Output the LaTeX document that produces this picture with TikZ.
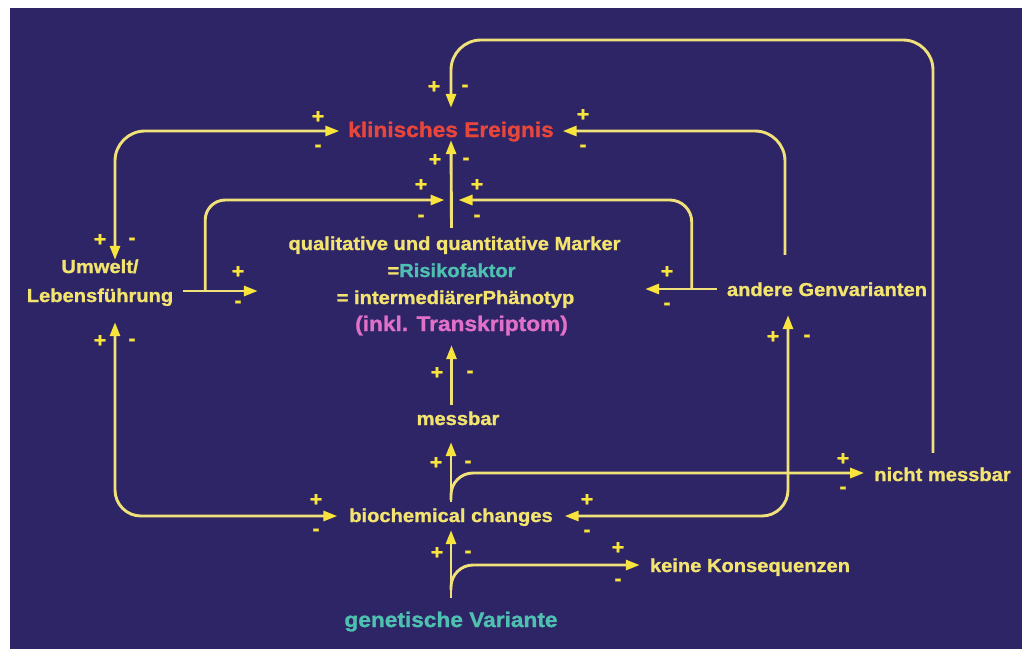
\documentclass[tikz,border=0pt]{standalone}
\usepackage{fontspec}
\setmainfont{Liberation Sans}[FakeStretch=1.07, FakeBold=1.2]
\usetikzlibrary{arrows.meta,calc}
\definecolor{bgc}{RGB}{46,37,102}
\definecolor{txtY}{RGB}{242,228,110}
\definecolor{lineY}{RGB}{240,225,120}
\definecolor{tipY}{RGB}{248,228,60}
\definecolor{sgnY}{RGB}{248,228,60}
\definecolor{redT}{RGB}{232,70,58}
\definecolor{tealT}{RGB}{78,192,176}
\definecolor{pinkT}{RGB}{224,112,200}
\newcommand\pmpair[3]{\node[sgn] (#1p) at (#2) {+}; \node[sgn] (#1m) at (#3) {-};}
\tikzset{
  txt/.style={inner sep=0pt, text=txtY, font=\bfseries\fontsize{18.8}{29}\selectfont},
  bigtxt/.style={inner sep=0pt, font=\bfseries\fontsize{21.2}{29}\selectfont},
  sgn/.style={inner sep=0pt, text=sgnY, font=\bfseries\fontsize{20}{20}\selectfont},
  con/.style={draw=lineY, line width=2.9pt, -{Triangle[length=14pt,width=10pt,color=tipY]}},
  dcon/.style={draw=lineY, line width=2.9pt, {Triangle[length=14pt,width=10pt,color=tipY]}-{Triangle[length=14pt,width=10pt,color=tipY]}},
}
\begin{document}
\begin{tikzpicture}[x=1pt,y=-1pt]
\useasboundingbox (0,0) rectangle (1027,649);
\fill[white] (0,0) rectangle (1027,649);
\fill[bgc] (10,8) rectangle (1022,649);

% nodes
\node[bigtxt, text=redT, text height=29pt, text depth=17pt, minimum width=223pt] (klin) at (451,131) {klinisches Ereignis};
\node[txt, align=center, text height=103pt, text depth=14pt, minimum width=387pt, font=\bfseries\fontsize{18.8}{27}\selectfont] (marker) at (451.5,286.5)
  {\hspace*{6pt}qualitative und quantitative Marker\\
   =\textcolor{tealT}{Risikofaktor}\\
   \hspace*{8pt}= intermediärerPhänotyp\\
   \hspace*{20pt}{\fontsize{21.2}{27}\selectfont\color{pinkT}(inkl. Transkriptom)}};
\node[txt, align=center, text height=42pt, text depth=20pt, minimum width=166pt] (umw) at (100,291) {Umwelt/\\Lebensführung};
\node[txt, text height=41pt, text depth=19pt, inner xsep=10pt] (andere) at (827,285) {andere Genvarianten};
\node[txt, text height=20pt, text depth=17pt] (messbar) at (458,423.5) {messbar};
\node[txt, text height=28pt, text depth=12pt, inner xsep=10pt] (nicht) at (942.5,473) {nicht messbar};
\node[txt, text height=20pt, text depth=8pt, minimum width=227pt] (bio) at (451,516) {biochemical changes};
\node[txt, text height=16pt, text depth=2pt, inner xsep=10pt] (keine) at (750,565) {keine Konsequenzen};
\node[bigtxt, text=tealT, text height=29pt, text depth=5pt] (gen) at (451,615) {genetische Variante};

% helper coordinates
\coordinate (mk) at (451.5,200);
\coordinate (toprow) at (0,40);
\coordinate (ub) at ($(umw.east)+(22pt,0)$);
\coordinate (aw) at ([yshift=-4pt]andere.west);
\coordinate (ab) at ($(aw)+(-25pt,0)$);
\coordinate (gb) at ($(gen.north)+(0,8pt)$);
\coordinate (bb) at ($(bio.north)+(0,2pt)$);

% connectors
\draw[con] (gen.north) -- (bio.south);
\draw[con, rounded corners=22pt] (gb) |- (keine.west);
\draw[con] (bio.north) -- (bio.north |- messbar.south);
\draw[con, rounded corners=22pt] (bb) |- (nicht.west);
\draw[con] (marker.south |- messbar.north) -- (marker.south);
\draw[con] (marker.north) -- ([yshift=14pt]klin.south);
\draw[con] (umw.east) -- (marker.west |- umw.east);
\draw[con, rounded corners=20pt] (ub) |- ([xshift=-7pt]mk);
\draw[con] (aw) -- (marker.east |- aw);
\draw[con, rounded corners=22pt] (ab) |- ([xshift=7pt]mk);
\draw[con, rounded corners=30pt] ([xshift=-42pt]andere.north) |- (klin.east);
\draw[con, rounded corners=30pt] ([xshift=-9.5pt]nicht.north) |- (klin.north |- toprow) -- (klin.north);
\draw[dcon, rounded corners=30pt] (klin.west) -| ([xshift=15pt]umw.north);
\draw[dcon, rounded corners=26pt] ([xshift=15pt]umw.south) |- (bio.west);
\draw[dcon, rounded corners=26pt] ([xshift=-39pt]andere.south) |- (bio.east);

% signs
\pmpair{kT}{434,87}{465,88}
\pmpair{kL}{318,117}{318,148}
\pmpair{kR}{583,115}{583,148}
\pmpair{kB}{435,160}{466,161}
\pmpair{mL}{421,185}{421,218}
\pmpair{mR}{477,185}{477,218}
\pmpair{uT}{100,240}{132,241}
\pmpair{uB}{100,341}{132,342}
\pmpair{uM}{238,272}{238,304}
\pmpair{aM}{667,272}{667,306}
\pmpair{aB}{773,337}{807,338}
\pmpair{mS}{437,373}{470,374}
\pmpair{bT}{436,463}{468,464}
\pmpair{nW}{843,459}{843,490}
\pmpair{bL}{316,500}{316,532}
\pmpair{bR}{587,500}{587,533}
\pmpair{gT}{437,553}{468,554}
\pmpair{kW}{618,548}{618,582}
\end{tikzpicture}
\end{document}
